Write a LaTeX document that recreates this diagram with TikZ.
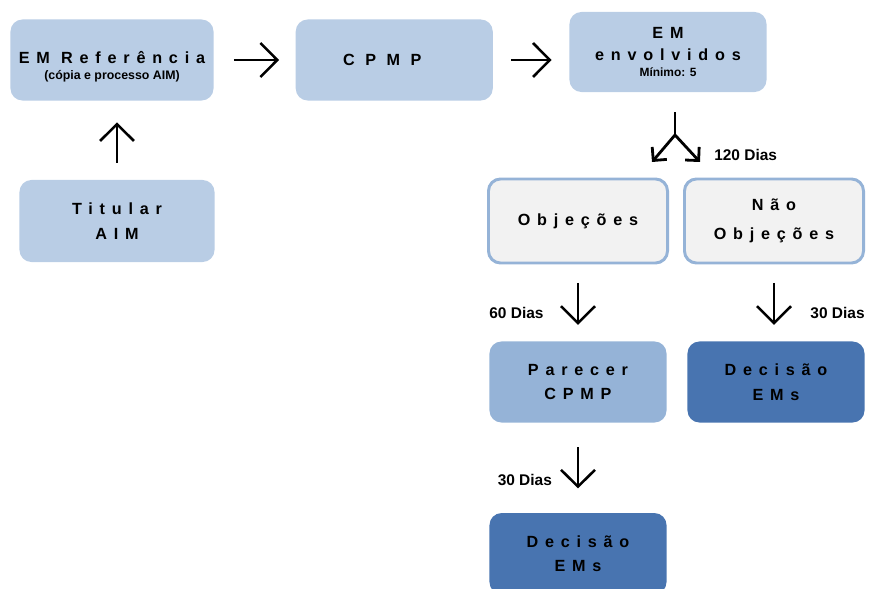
\documentclass[tikz,border=0pt]{standalone}
\usepackage{fontspec}
\setmainfont{Liberation Sans}
\newfontfamily\spacedfont[LetterSpace=42]{Liberation Sans}
\usetikzlibrary{arrows.meta, positioning}

\definecolor{paleblue}{HTML}{B9CDE5}
\definecolor{midblue}{HTML}{95B3D7}
\definecolor{deepblue}{HTML}{4874B0}
\definecolor{palegray}{HTML}{F2F2F2}

\begin{document}
\begin{tikzpicture}[
  x=0.025cm, y=-0.025cm,
  box/.style={rounded corners=0.3cm, minimum width=4.425cm,
              minimum height=2.025cm, align=center,
              font=\spacedfont\bfseries\fontsize{11.5}{17.5}\selectfont},
  outline/.style={box, fill=palegray, draw=midblue, line width=2.1pt,
              minimum width=4.475cm, minimum height=2.1cm},
  dias/.style={inner sep=0pt, font=\bfseries\fontsize{11}{13}\selectfont},
  arr/.style={-{Straight Barb[length=0.42cm, width=0.85cm]}, line width=1.8pt},
  forkarr/.style={-{Straight Barb[length=0.24cm, width=0.48cm]}, line width=2pt}
]
\useasboundingbox (0,0) rectangle (870,589);

% top row
\node[box, fill=paleblue, minimum width=5.075cm] (ref) at (112,60)
  {\rule{0pt}{18pt}EM Referência\\[-6pt]{\rmfamily\fontsize{8.8}{11}\selectfont (cópia e processo AIM)}};
\node[box, fill=paleblue, minimum width=4.925cm, right=2.04cm of ref] (cpmp)
  {\addfontfeature{LetterSpace=65}CPMP\hspace{0.6cm}};
\node[box, fill=paleblue, minimum width=4.925cm, minimum height=2cm] (envolv) at (668,52)
  {EM\\[-2pt]envolvidos\\[-6pt]{\rmfamily\fontsize{8.5}{10}\selectfont Mínimo: 5}};
\node[box, fill=paleblue, minimum width=4.875cm, minimum height=2.05cm] (titular) at (117,221)
  {Titular\\AIM};

% opinions
\node[outline] (obj) at (578,221) {Objeções};
\node[outline, right=0.35cm of obj] (nobj) {Não\\[3pt]Objeções};

% decisions
\node[box, fill=midblue] (parecer) at (578,382) {Parecer\\CPMP};
\node[box, fill=deepblue] (decR) at (776,382) {Decisão\\EMs};
\node[box, fill=deepblue, below=2.25cm of parecer] (decB) {Decisão\\EMs};

% fork below EM envolvidos
\coordinate (split) at (675,135);
\coordinate (splitL) at (652,162);
\coordinate (splitR) at (700,162);

\draw[arr, shorten <=0.5cm, shorten >=0.41cm] (ref) -- (cpmp);
\draw[arr, shorten <=0.46cm, shorten >=0.44cm] (cpmp.east) -- (cpmp.east -| envolv.west);
\draw[arr, shorten <=0.42cm, shorten >=0.54cm] (titular.north) -- (titular.north |- ref.south);
\draw[line width=2pt, shorten <=0.5cm] (envolv.south -| split) -- ([yshift=-1pt]split);
\draw[forkarr] (split) -- (splitL);
\draw[forkarr] (split) -- (splitR);
\node[dias, anchor=west] (d120) at ([xshift=0.35cm, yshift=0.17cm]splitR) {120 Dias};
\draw[arr, shorten <=0.46cm, shorten >=0.41cm] (obj.south) --
  node[dias, pos=0.63, left=0.83cm] {60 Dias} (parecer.north);
\draw[arr, shorten <=0.46cm, shorten >=0.41cm] (nobj.south) --
  node[dias, pos=0.63, right=0.88cm] {30 Dias} (nobj.south |- decR.north);
\draw[arr, shorten <=0.61cm, shorten >=0.61cm] (parecer.south) --
  node[dias, pos=0.64, left=0.62cm] {30 Dias} (decB.north);
\end{tikzpicture}
\end{document}
